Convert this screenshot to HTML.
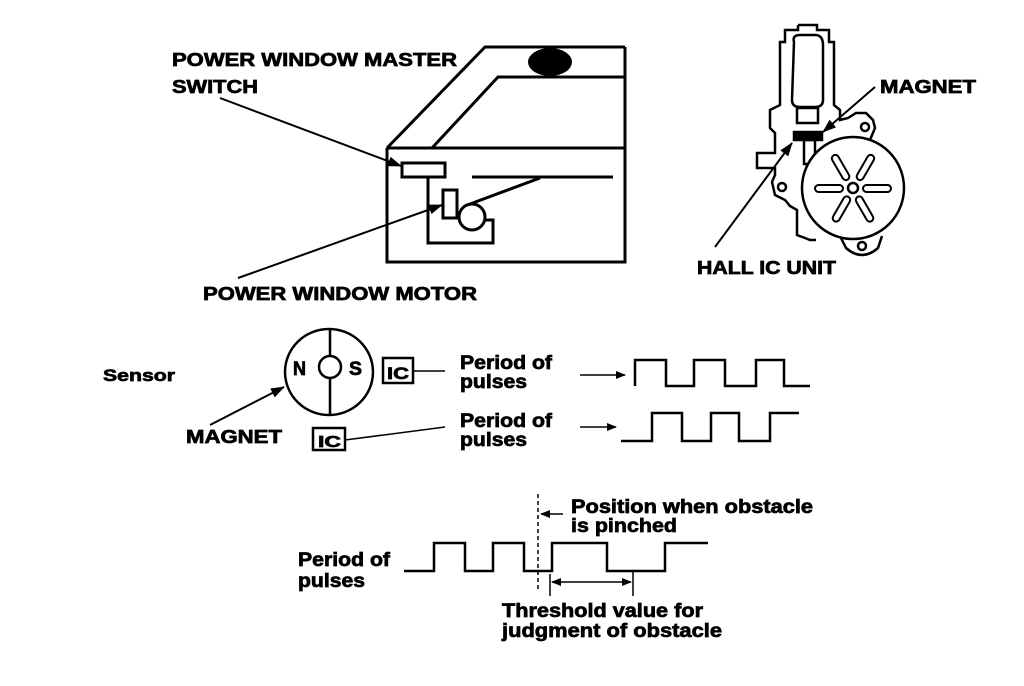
<!DOCTYPE html>
<html><head><meta charset="utf-8"><style>
html,body{margin:0;padding:0;background:#fff;}
svg{display:block;}
text{font-family:"Liberation Sans",sans-serif;font-weight:bold;fill:#000;stroke:#000;stroke-width:0.7;}
</style></head><body>
<svg width="1024" height="686" viewBox="0 0 1024 686" xmlns="http://www.w3.org/2000/svg">
<defs>
<marker id="ah" markerWidth="10" markerHeight="8" refX="9" refY="4" orient="auto" markerUnits="userSpaceOnUse">
<path d="M0,0 L10,4 L0,8 Z" fill="#000"/></marker>
<marker id="ah2" markerWidth="14" markerHeight="10" refX="13" refY="5" orient="auto" markerUnits="userSpaceOnUse">
<path d="M0,0 L14,5 L0,10 Z" fill="#000"/></marker>
</defs>
<g fill="none" stroke="#000" stroke-width="3">
<path d="M387,148 L485,47 L625,47"/>
<path d="M387,148 L387,262 L625,262 L625,47"/>
<path d="M387,148 L625,148"/>
<path d="M432,148 L498,77 L625,77"/>
<rect x="402" y="163" width="43" height="14"/>
<path d="M428,177 L428,243 L493,243 L493,220 L484,220"/>
<rect x="443" y="190" width="14" height="28"/>
<circle cx="472" cy="217" r="13"/>
<path d="M470,204 L540,178"/>
<path d="M472,177 L613,177"/>
<path d="M220,98 L401,166" stroke-width="2" marker-end="url(#ah2)"/>
<path d="M238,278 L442,205" stroke-width="2" marker-end="url(#ah2)"/>
</g>
<ellipse cx="550" cy="62" rx="22" ry="14" fill="#000"/>
<g fill="none" stroke="#000" stroke-width="2.5">
<path d="M798,25 L817,25 L817,30 L829,30 L829,42 L834,42 L834,105 L840,110 L840,120 L848,118 L856,113 L866,113 L873,120 L875,128 L870,140"/>
<path d="M798,25 L798,30 L785,30 L785,42 L780,42 L780,105 L770,110 L770,128 L775,133 L775,153 L757,153 L757,168 L775,168 L775,175 L772,182 L775,195 L785,200 L790,206 L797,210 L797,235 L805,238 L810,240 L816,240"/>
<path d="M794,42 Q792,35 800,35 L815,35 Q823,35 823,45 L823,100 Q823,107 815,107 L800,107 Q792,107 792,100 Z"/>
<rect x="797" y="108" width="21" height="15"/>
<rect x="794" y="132" width="28" height="8" fill="#000"/>
<rect x="804" y="140" width="11" height="24"/>
<circle cx="782" cy="187" r="4"/>
<path d="M840,236 L846,248 Q862,262 878,248 L882,236"/>
<circle cx="862" cy="246" r="4"/>
<circle cx="865" cy="127" r="4"/>
<circle cx="853" cy="188" r="51" fill="#fff"/>
<circle cx="853" cy="188" r="5"/>
<g stroke-width="2">
<rect x="815" y="185" width="28" height="7" rx="3.5"/>
<rect x="863" y="185" width="28" height="7" rx="3.5"/>
<rect x="815" y="185" width="28" height="7" rx="3.5" transform="rotate(60 853 188)"/>
<rect x="863" y="185" width="28" height="7" rx="3.5" transform="rotate(60 853 188)"/>
<rect x="815" y="185" width="28" height="7" rx="3.5" transform="rotate(-60 853 188)"/>
<rect x="863" y="185" width="28" height="7" rx="3.5" transform="rotate(-60 853 188)"/>
</g>
<path d="M875,87 L823,132" stroke-width="2" marker-end="url(#ah2)"/>
<path d="M715,247 L792,143" stroke-width="2" marker-end="url(#ah2)"/>
</g>
<g fill="none" stroke="#000" stroke-width="2.5">
<ellipse cx="329" cy="372" rx="44" ry="43"/>
<circle cx="330" cy="367" r="11"/>
<path d="M330,330 L330,356 M330,378 L330,415"/>
<rect x="383" y="358" width="30" height="25"/>
<path d="M413,371 L445,371" stroke-width="1.5"/>
<rect x="313" y="428" width="32" height="22"/>
<path d="M345,440 L445,427" stroke-width="1.5"/>
<path d="M210,425 L284,387" stroke-width="2" marker-end="url(#ah2)"/>
<path d="M580,375 L625,375" stroke-width="1.5" marker-end="url(#ah)"/>
<path d="M580,427 L616,427" stroke-width="1.5" marker-end="url(#ah)"/>
<path d="M635,386 L635,360 L666,360 L666,386 L694,386 L694,360 L725,360 L725,386 L756,386 L756,360 L784,360 L784,386 L810,386"/>
<path d="M621,441 L652,441 L652,413 L682,413 L682,441 L711,441 L711,413 L739,413 L739,441 L770,441 L770,413 L799,413"/>
<path d="M404,571 L434,571 L434,543 L465,543 L465,571 L493,571 L493,543 L524,543 L524,571 L552,571 L552,543 L607,543 L607,571 L665,571 L665,543 L708,543"/>
<path d="M538,494 L538,590" stroke-width="1.5" stroke-dasharray="4,3"/>
<path d="M563,514 L541,514" stroke-width="1.5" marker-end="url(#ah)"/>
<path d="M550,574 L550,596 M633,570 L633,596" stroke-width="1.5"/>
<path d="M592,582 L552,582" stroke-width="1.5" marker-end="url(#ah)"/>
<path d="M592,582 L631,582" stroke-width="1.5" marker-end="url(#ah)"/>
</g>
<g font-size="18">
<text x="172" y="66" textLength="285" lengthAdjust="spacingAndGlyphs">POWER WINDOW MASTER</text>
<text x="172" y="93" textLength="86" lengthAdjust="spacingAndGlyphs">SWITCH</text>
<text x="203" y="300" textLength="274" lengthAdjust="spacingAndGlyphs">POWER WINDOW MOTOR</text>
<text x="880" y="93" textLength="96" lengthAdjust="spacingAndGlyphs">MAGNET</text>
<text x="697" y="274" textLength="139" lengthAdjust="spacingAndGlyphs">HALL IC UNIT</text>
<text x="186" y="443" textLength="96" lengthAdjust="spacingAndGlyphs">MAGNET</text>
</g>
<g font-size="19">
<text x="103" y="381" font-size="17" textLength="72" lengthAdjust="spacingAndGlyphs">Sensor</text>
<text x="293" y="375" textLength="13" lengthAdjust="spacingAndGlyphs">N</text>
<text x="349" y="375" textLength="13" lengthAdjust="spacingAndGlyphs">S</text>
<text x="387" y="379" font-size="17" textLength="22" lengthAdjust="spacingAndGlyphs">IC</text>
<text x="318" y="447" font-size="16" textLength="23" lengthAdjust="spacingAndGlyphs">IC</text>
<text x="460" y="369" textLength="92" lengthAdjust="spacingAndGlyphs">Period of</text>
<text x="460" y="388" textLength="67" lengthAdjust="spacingAndGlyphs">pulses</text>
<text x="460" y="427" textLength="92" lengthAdjust="spacingAndGlyphs">Period of</text>
<text x="460" y="446" textLength="67" lengthAdjust="spacingAndGlyphs">pulses</text>
<text x="571" y="513" textLength="242" lengthAdjust="spacingAndGlyphs">Position when obstacle</text>
<text x="571" y="532" textLength="106" lengthAdjust="spacingAndGlyphs">is pinched</text>
<text x="298" y="566" textLength="92" lengthAdjust="spacingAndGlyphs">Period of</text>
<text x="298" y="587" textLength="67" lengthAdjust="spacingAndGlyphs">pulses</text>
<text x="502" y="617" textLength="201" lengthAdjust="spacingAndGlyphs">Threshold value for</text>
<text x="502" y="637" textLength="220" lengthAdjust="spacingAndGlyphs">judgment of obstacle</text>
</g>
</svg>
</body></html>
